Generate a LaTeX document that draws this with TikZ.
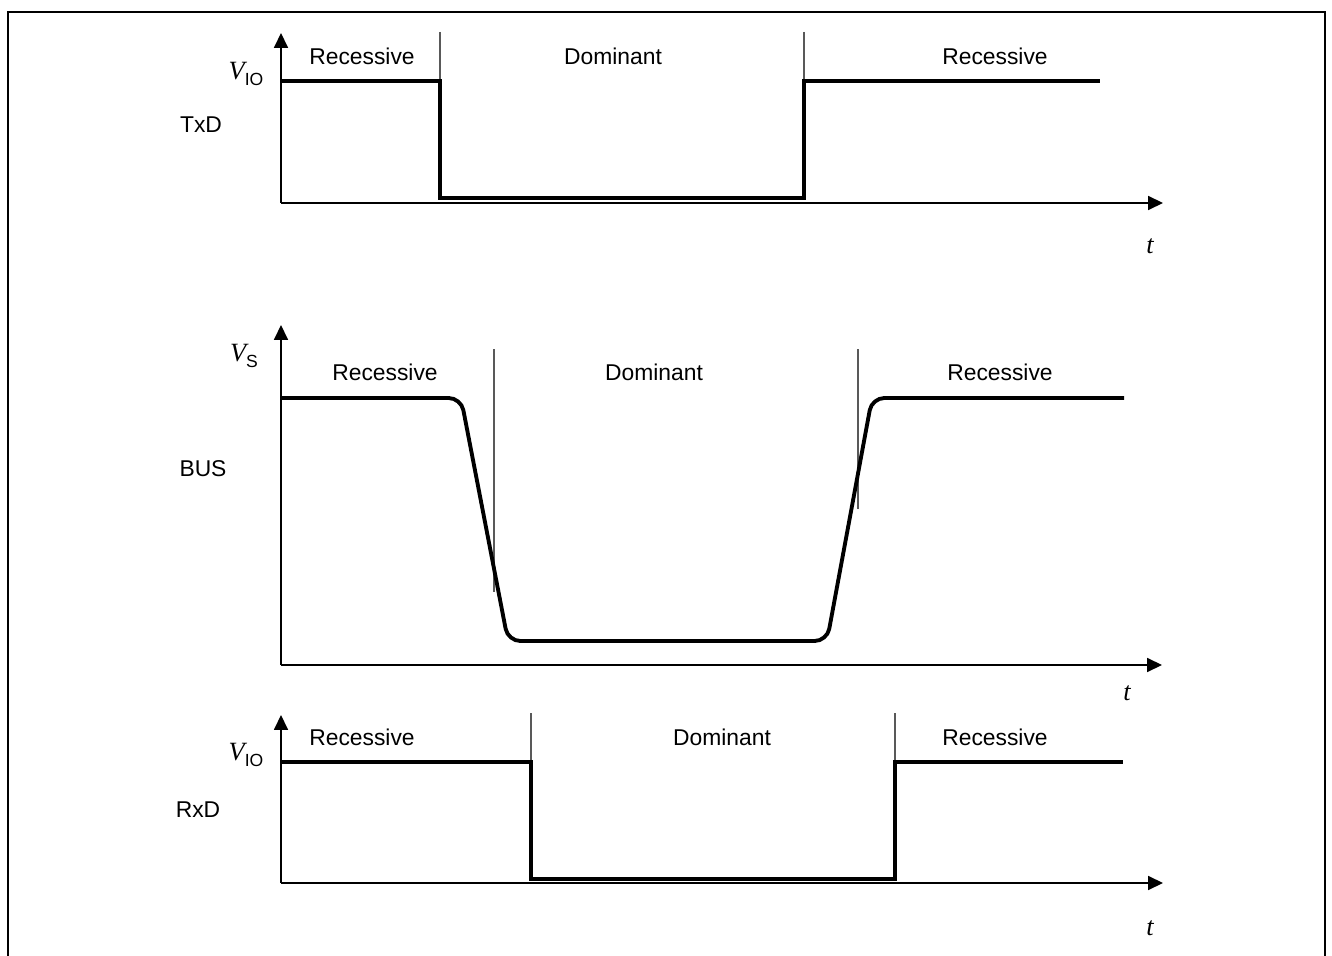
\documentclass[tikz,border=0pt]{standalone}
\usepackage{fontspec}
\setmainfont{Liberation Sans}
\newfontfamily\timesfont{Liberation Serif}
\usetikzlibrary{positioning}
\usetikzlibrary{arrows.meta}

\newcommand{\volt}[1]{{\fontsize{15}{16}\selectfont\timesfont\itshape V}\raisebox{-0.5ex}{\fontsize{10}{10}\selectfont #1}}

\begin{document}
\begin{tikzpicture}[
            x = 0.02cm, y = -0.02cm, % one unit is one pixel
            > = {Triangle[length=8.5pt,width=8pt]}, % arrow head style
            font = \fontsize{13}{15}\selectfont
        ]

        \tikzstyle{axis}=[->, line width=0.8pt]
        \tikzstyle{signal}=[line width=2.2pt, line join=miter]
        \tikzstyle{edge mark}=[gray!70!black, line width=0.6pt]
        \tikzstyle{phase}=[inner sep=0pt]
        \tikzstyle{tlabel}=[inner sep=0pt, font=\fontsize{15}{16}\selectfont\timesfont\itshape]

        \useasboundingbox (0,0) rectangle (1332,956);

        % frame
        \draw[line width=0.9pt] (8,956) -- (8,12) -- (1325,12) -- (1325,956);

        % TxD level
        \coordinate (T0) at (281,203);
        \draw[axis] (T0) -- (1163,203);
        \draw[axis] (T0) -- (281,33);
        \draw[edge mark] (440,32) -- (440,81);
        \draw[edge mark] (804,32) -- (804,81);
        \draw[signal] (281,81) -- (440,81) -- (440,198) -- (804,198) -- (804,81) -- (1100,81);

        \node[phase] (TR1) at (362,56) {Recessive};
        \node[phase] (TD) at (613,56) {Dominant};
        \node[phase] (TR2) at (995,56) {Recessive};
        \node[phase] (TV) at (246,74) {\volt{IO}};
        \node[phase] (TN) at (201,125) {TxD};
        \node[tlabel] (Tt) at (1150,246) {t};

        % BUS level
        \coordinate (B0) at (281,665);
        \draw[axis] (B0) -- (1162,665);
        \draw[axis] (B0) -- (281,325);
        \draw[edge mark] (494,349) -- (494,592);
        \draw[edge mark] (858,349) -- (858,509);
        \draw[signal, rounded corners=7pt] (281,398) -- (461,398) -- (508,641) -- (827,641) -- (872,398) -- (1124,398);

        \node[phase] (BR1) at (385,372) {Recessive};
        \node[phase] (BD) at (654,372) {Dominant};
        \node[phase] (BR2) at (1000,372) {Recessive};
        \node[phase] (BV) at (244,356) {\volt{S}};
        \node[phase] (BN) at (203,469) {BUS};
        \node[tlabel] (Bt) at (1127,693) {t};

        % RxD level
        \coordinate (R0) at (281,883);
        \draw[axis] (R0) -- (1163,883);
        \draw[axis] (R0) -- (281,715);
        \draw[edge mark] (531,713) -- (531,762);
        \draw[edge mark] (895,713) -- (895,762);
        \draw[signal] (281,762) -- (531,762) -- (531,879) -- (895,879) -- (895,762) -- (1123,762);

        \node[phase] (RR1) at (362,737) {Recessive};
        \node[phase] (RD) at (722,737) {Dominant};
        \node[phase] (RR2) at (995,737) {Recessive};
        \node[phase] (RV) at (246,755) {\volt{IO}};
        \node[phase] (RN) at (198,810) {RxD};
        \node[tlabel] (Rt) at (1150,928) {t};

  \end{tikzpicture}
\end{document}
